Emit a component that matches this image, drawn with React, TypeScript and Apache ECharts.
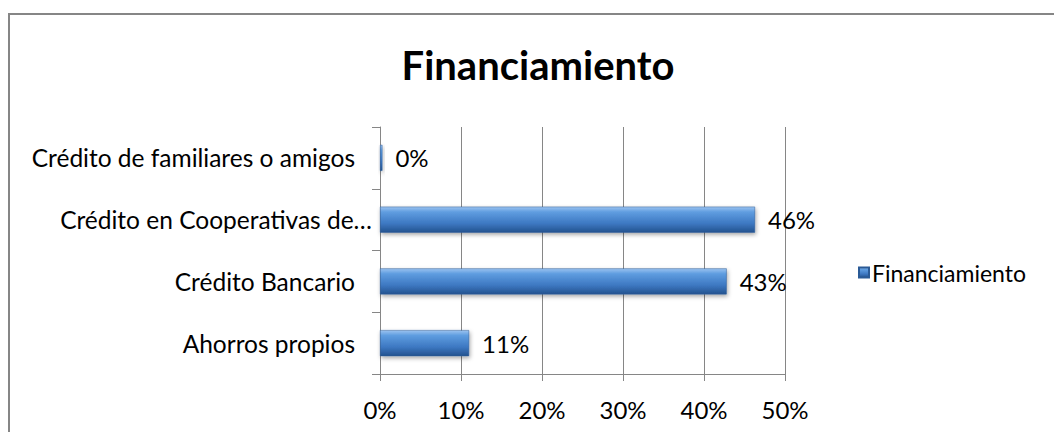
import React, { useEffect, useRef } from "react";
import * as echarts from "echarts";

const categories = [
  "Ahorros propios",
  "Crédito Bancario",
  "Crédito en Cooperativas de Ahorro y Crédito",
  "Crédito de familiares o amigos",
];
const values = [11.0, 42.8, 46.3, 0.3];
const xTicks = [0, 10, 20, 30, 40, 50];
const seriesName = "Financiamiento";
const titleText = "Financiamiento";

const FONT = "Lato, 'Open Sans', sans-serif";

export default function App() {
  const ref = useRef<HTMLDivElement>(null);
  useEffect(() => {
    if (!ref.current) return;
    const chart = echarts.init(ref.current, null, { renderer: "svg" });
    const barColor = new echarts.graphic.LinearGradient(0, 0, 0, 1, [
      { offset: 0, color: "#9cc3f0" },
      { offset: 0.2, color: "#5f9de0" },
      { offset: 0.65, color: "#3d78c2" },
      { offset: 1, color: "#24538f" },
    ]);
    const isLong = (v: string) => v.length > 27 && v.indexOf("Cooperativas") >= 0;
    chart.setOption({
      animation: false,
      backgroundColor: "#ffffff",
      title: {
        text: titleText,
        left: 533,
        top: 40,
        textAlign: "center",
        textStyle: { fontFamily: FONT, fontSize: 40, fontWeight: "bold", color: "#000" },
      },
      legend: {
        data: [seriesName],
        left: 853,
        top: 256,
        itemWidth: 10,
        itemHeight: 10,
        itemGap: 4,
        icon: "rect",
        textStyle: { fontFamily: FONT, fontSize: 23, color: "#000", padding: [0, 0, 0, -2] },
      },
      grid: { left: 380, right: 269, top: 127, bottom: 58, containLabel: false },
      xAxis: {
        type: "value",
        min: xTicks[0],
        max: xTicks[xTicks.length - 1],
        interval: 10,
        axisLine: { show: true, lineStyle: { color: "#868686", width: 1 } },
        axisTick: { show: true, length: 7, lineStyle: { color: "#868686" } },
        axisLabel: {
          formatter: (v: number) => v + "%",
          fontFamily: FONT,
          fontSize: 24,
          color: "#000",
          margin: 23,
        },
        splitLine: { show: true, lineStyle: { color: "#868686", width: 1 } },
      },
      yAxis: {
        type: "category",
        data: categories.map((c) =>
          isLong(c) ? { value: c, textStyle: { padding: [0, -17, 0, 0] } } : c
        ),
        axisLine: { show: true, lineStyle: { color: "#868686", width: 1 } },
        axisTick: { show: true, length: 8, lineStyle: { color: "#868686" } },
        axisLabel: {
          fontFamily: FONT,
          fontSize: 24.5,
          color: "#000",
          margin: 25,
          formatter: (v: string) => (isLong(v) ? v.slice(0, 26) + "…" : v),
        },
      },
      series: [
        {
          name: seriesName,
          type: "bar",
          data: values,
          barWidth: 26,
          itemStyle: {
            color: barColor,
            borderColor: "#2a5a96",
            borderWidth: 0.5,
            shadowColor: "rgba(0,0,0,0.35)",
            shadowBlur: 4,
            shadowOffsetX: 1,
            shadowOffsetY: 2,
          },
          label: {
            show: true,
            position: "right",
            distance: 13,
            fontFamily: FONT,
            fontSize: 24,
            color: "#000",
            formatter: (p: any) => Math.round(p.value) + "%",
          },
        },
      ],
      graphic: [
        {
          type: "rect",
          shape: { x: 9, y: 14, width: 1200, height: 600 },
          style: { fill: "none", stroke: "#868686", lineWidth: 2 },
          silent: true,
        },
      ],
    });
    return () => chart.dispose();
  }, []);
  return (
    <div
      ref={ref}
      style={{ position: "absolute", left: 0, top: 0, width: 1054, height: 432 }}
    />
  );
}
